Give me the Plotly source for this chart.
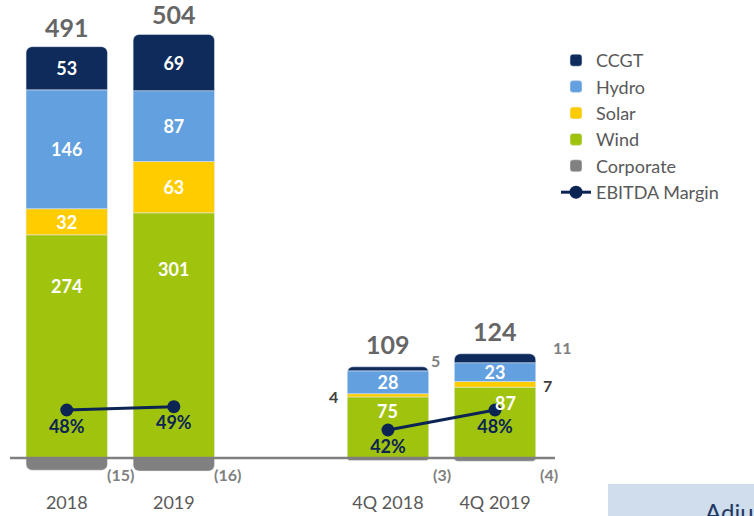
import plotly.graph_objects as go

categories = ["2018", "2019", "4Q 2018", "4Q 2019"]
axis_order = ["2018", "2019", " ", "4Q 2018", "4Q 2019"]
ccgt = [53, 69, 5, 11]
hydro = [146, 87, 28, 23]
solar = [32, 63, 4, 7]
wind = [274, 301, 75, 87]
corporate = [-15, -16, -3, -4]
totals = [491, 504, 109, 124]
margin = [48, 49, None, 42, 48]
margin_labels = ["48%", "49%", "", "42%", "48%"]

C_CCGT = "#0E2B5C"
C_HYDRO = "#62A0DF"
C_SOLAR = "#FFCC00"
C_WIND = "#A0C40E"
C_CORP = "#808080"
C_LINE = "#0C2454"
FONT = "Lato"

W, H = 754, 516
L, R, T, B = 10, 199, 10, 43
PW, PH = W - L - R, H - T - B


def px_x(p):
    return (p - L) / PW


def px_y(p):
    return (H - B - p) / PH


fig = go.Figure()

def inside_text(vals, thresh=15):
    return [str(v) if v >= thresh else "" for v in vals]

seg_font = dict(family=FONT, size=18, color="white", weight="bold")
bar_common = dict(textposition="inside", insidetextanchor="middle", textangle=0,
                  constraintext="none", textfont=seg_font, hoverinfo="skip")

fig.add_trace(go.Bar(name="Wind", x=categories, y=wind, marker_color=C_WIND,
                     legendrank=4, hoverinfo="skip"))
fig.add_trace(go.Bar(name="Solar", x=categories, y=solar, marker_color=C_SOLAR,
                     text=inside_text(solar), legendrank=3, **bar_common))
fig.add_trace(go.Bar(name="Hydro", x=categories, y=hydro, marker_color=C_HYDRO,
                     text=inside_text(hydro), legendrank=2, **bar_common))
fig.add_trace(go.Bar(name="CCGT", x=categories, y=ccgt, marker_color=C_CCGT,
                     text=inside_text(ccgt), legendrank=1, **bar_common))
fig.add_trace(go.Bar(name="Corporate", x=categories, y=corporate, marker_color=C_CORP,
                     legendrank=5, hoverinfo="skip"))

fig.add_trace(go.Scatter(name="EBITDA Margin", x=axis_order, y=margin, yaxis="y2",
                         mode="lines+markers+text", text=margin_labels,
                         textposition="bottom center",
                         textfont=dict(family=FONT, size=18, color=C_LINE, weight="bold"),
                         line=dict(color=C_LINE, width=3),
                         marker=dict(size=13, color=C_LINE),
                         connectgaps=False, legendrank=6, hoverinfo="skip"))

ann = []
for i, c in enumerate(categories):
    xi = axis_order.index(c)
    pos_total = ccgt[i] + hydro[i] + solar[i] + wind[i]
    # wind label
    ann.append(dict(x=xi, y=wind[i] * 0.77, text=str(wind[i]), showarrow=False,
                    xshift=10 if i == 3 else 0,
                    font=dict(family=FONT, size=18, color="white", weight="bold")))
    # total label
    ann.append(dict(x=xi, y=pos_total, text=str(totals[i]), showarrow=False,
                    yanchor="bottom", yshift=3 if i < 2 else 6,
                    font=dict(family=FONT, size=25, color="#666666", weight="bold")))
    # corporate label
    ann.append(dict(x=xi, y=0, text="(%d)" % abs(corporate[i]), showarrow=False,
                    xshift=54, yshift=-16,
                    font=dict(family=FONT, size=16, color="#7F7F7F", weight="bold")))
    # small outside labels
    if ccgt[i] < 15:
        ann.append(dict(x=xi, y=pos_total, text=str(ccgt[i]), showarrow=False,
                        xanchor="left", xshift=41 if ccgt[i] < 10 else 56, yshift=6,
                        font=dict(family=FONT, size=16, color="#7F7F7F", weight="bold")))
    if solar[i] < 15:
        left_side = i == 2
        ann.append(dict(x=xi, y=wind[i] + solar[i] / 2, text=str(solar[i]), showarrow=False,
                        xanchor="right" if left_side else "left",
                        xshift=-48 if left_side else 46, yshift=-1,
                        font=dict(family=FONT, size=16, color="#404040", weight="bold")))

# partial box bottom-right
ann.append(dict(xref="paper", yref="paper", x=px_x(703), y=px_y(495), xanchor="left",
                yanchor="top", text="Adjusted EBITDA", showarrow=False,
                font=dict(family=FONT, size=24, color="#1F3864")))

shapes = [
    dict(type="line", xref="paper", yref="y", x0=0, x1=1, y0=0, y1=0,
         line=dict(color="#7F7F7F", width=2.5), layer="above"),
    dict(type="rect", xref="paper", yref="paper", x0=px_x(608), x1=px_x(760),
         y0=px_y(520), y1=px_y(484), fillcolor="#D0DDEC", line=dict(width=0),
         layer="below"),
]

fig.update_layout(
    width=W, height=H,
    margin=dict(l=L, r=R, t=T, b=B),
    paper_bgcolor="white", plot_bgcolor="white",
    barmode="relative", bargap=0.24, barcornerradius=6,
    font=dict(family=FONT, color="#595959"),
    xaxis=dict(type="category", categoryorder="array", categoryarray=axis_order,
               range=[-0.53, 4.56], showgrid=False, zeroline=False, showline=False,
               ticks="", tickfont=dict(family=FONT, size=18, color="#595959"),
               ticklabelstandoff=17, automargin=False),
    yaxis=dict(range=[-18.4, 550], visible=False, showgrid=False, zeroline=False,
               automargin=False),
    yaxis2=dict(range=[29.1, 168], overlaying="y", visible=False, showgrid=False,
                zeroline=False, automargin=False),
    legend=dict(x=px_x(556), y=px_y(42), xanchor="left", yanchor="top",
                font=dict(family=FONT, size=18, color="#595959"),
                traceorder="normal", itemwidth=30, bgcolor="rgba(0,0,0,0)"),
    annotations=ann,
    shapes=shapes,
)

fig.write_html("out.html", config={"displayModeBar": False},
               post_script="document.body.style.margin='0';document.body.style.overflow='hidden';")
